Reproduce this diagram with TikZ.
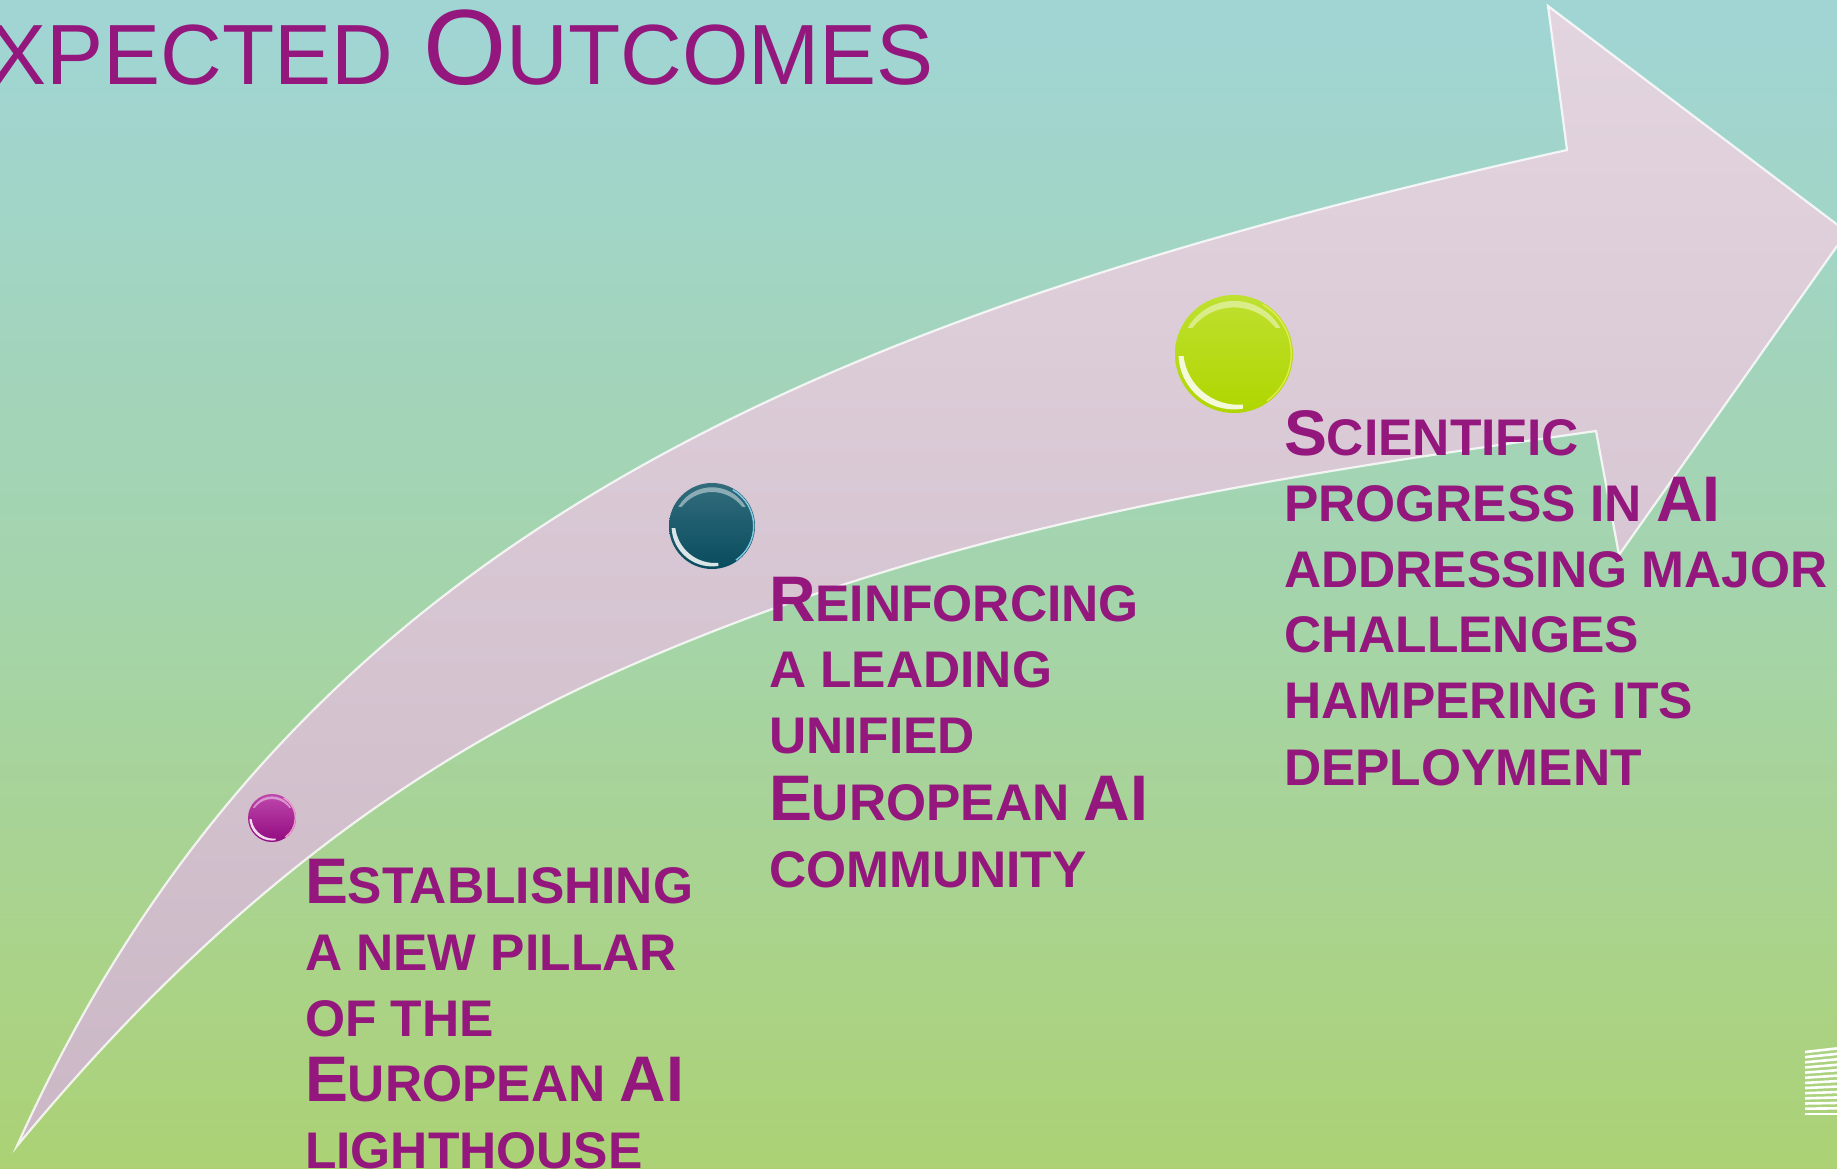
\documentclass[tikz,border=0pt]{standalone}
\usepackage{fontspec}
\setmainfont{Liberation Sans}
\definecolor{ttl}{RGB}{147,23,125}
\definecolor{bgtop}{RGB}{157,212,223}
\definecolor{bgA}{RGB}{160,213,212}
\definecolor{bgB}{RGB}{164,212,172}
\definecolor{bgC}{RGB}{169,211,146}
\definecolor{bgD}{RGB}{172,210,117}
\definecolor{bgE}{RGB}{174,208,88}
\definecolor{bgbot}{RGB}{175,207,60}
\definecolor{arrtop}{RGB}{227,213,224}
\definecolor{arrbot}{RGB}{203,183,197}
\pgfdeclareverticalshading{bgshade}{100bp}{color(0bp)=(bgbot); color(15bp)=(bgE); color(25bp)=(bgD); color(38bp)=(bgC); color(50bp)=(bgB); color(74bp)=(bgA); color(100bp)=(bgtop)}
\newcommand\capbig[1]{{\fontsize{64.4}{66}\selectfont #1}}
\newcommand\ttlbig[1]{{\fontsize{107}{110}\selectfont #1}}
\begin{document}
\begin{tikzpicture}[x=1pt,y=-1pt,
  txt/.style={inner sep=0pt, outer sep=0pt, anchor=base west, text=ttl, font=\bfseries\fontsize{51.5}{66}\selectfont},
  ttlstyle/.style={inner sep=0pt, outer sep=0pt, anchor=base east, text=ttl, font=\fontsize{85.5}{90}\selectfont},
  orbnode/.style={circle, inner sep=0pt, outer sep=0pt, draw=none},
  edge glow/.style={draw=white, line width=2.2pt, opacity=0.8, line join=miter}]
\useasboundingbox (0,0) rectangle (1837,1169);
\shade[shading=bgshade] (0,0) rectangle (1837,1169);

% big curved arrow
\def\arrowpath{(17,1146) .. controls (283,553) and (786,323) .. (1567,150)
  -- (1548,6) -- (1847,232) -- (1619,555) -- (1596,431)
  .. controls (1240,482) and (937,528) .. (609,675)
  .. controls (372,781) and (182,946) .. (17,1146) -- cycle}
\shade[top color=arrtop, bottom color=arrbot] \arrowpath;
\path[edge glow] \arrowpath;

% orbs
\node[orbnode, minimum size=48pt, top color={rgb,255:red,190;green,72;blue,172}, bottom color={rgb,255:red,146;green,10;blue,128}] (orbA) at (272,818) {};
\node[orbnode, minimum size=86pt, top color={rgb,255:red,50;green,108;blue,124}, bottom color={rgb,255:red,8;green,76;blue,94}] (orbB) at (712,526) {};
\node[orbnode, minimum size=118pt, top color={rgb,255:red,190;green,224;blue,48}, bottom color={rgb,255:red,176;green,214;blue,0}] (orbC) at (1234,354) {};

\foreach \o/\r/\rim in {orbA/24/{magenta!35!white}, orbB/43/{cyan!45!white}, orbC/59/{yellow!85!green!70!white}} {
  \begin{scope}[shift={(\o.center)}]
    % top gloss
    \begin{scope}
      \clip (-\r,-\r) rectangle (\r,-0.45*\r);
      \fill[white, opacity=0.45, even odd rule] (0,0) circle ({0.9*\r}) (0,0.1*\r) circle ({0.89*\r});
    \end{scope}
    % lower-left reflection
    \begin{scope}
      \clip (-\r,0.05*\r) rectangle (0.15*\r,\r);
      \fill[white, opacity=0.85, even odd rule] (0,0) circle ({0.94*\r}) (0.07*\r,-0.07*\r) circle ({0.93*\r});
    \end{scope}
    % rim light on the right
    \draw[\rim, line width=1.4pt, opacity=0.9] (-60:0.97*\r) arc[start angle=-60, end angle=55, radius=0.97*\r];
  \end{scope}
}

% title
\node[ttlstyle] (title) at (934,85) {\ttlbig{E}XPECTED\ttlbig{ O}UTCOMES};

% block 1
\node[txt] (a1) at (305,903) {\capbig{E}STABLISHING};
\node[txt] (a2) at (305,970) {A NEW PILLAR};
\node[txt] (a3) at (305,1036) {OF THE};
\node[txt] (a4) at (305,1101) {\capbig{E}UROPEAN \capbig{AI}};
\node[txt] (a5) at (305,1168) {LIGHTHOUSE};

% block 2
\node[txt] (b1) at (769,621) {\capbig{R}EINFORCING};
\node[txt] (b2) at (769,687) {A LEADING};
\node[txt] (b3) at (769,753) {UNIFIED};
\node[txt] (b4) at (769,820) {\capbig{E}UROPEAN \capbig{AI}};
\node[txt] (b5) at (769,887) {COMMUNITY};

% block 3
\node[txt] (c1) at (1284,455) {\capbig{S}CIENTIFIC};
\node[txt] (c2) at (1284,521) {PROGRESS IN \capbig{AI}};
\node[txt] (c3) at (1284,587) {ADDRESSING MAJOR};
\node[txt] (c4) at (1284,652) {CHALLENGES};
\node[txt] (c5) at (1284,718) {HAMPERING ITS};
\node[txt] (c6) at (1284,785) {DEPLOYMENT};

% striped mark, bottom right
\foreach \i in {0,...,12} {
  \draw[white, line width=2.6pt] (1805,{1052+\i*5.15}) -- (1837,{1052+\i*5.15-(12-\i)*0.3});
}
\end{tikzpicture}
\end{document}
